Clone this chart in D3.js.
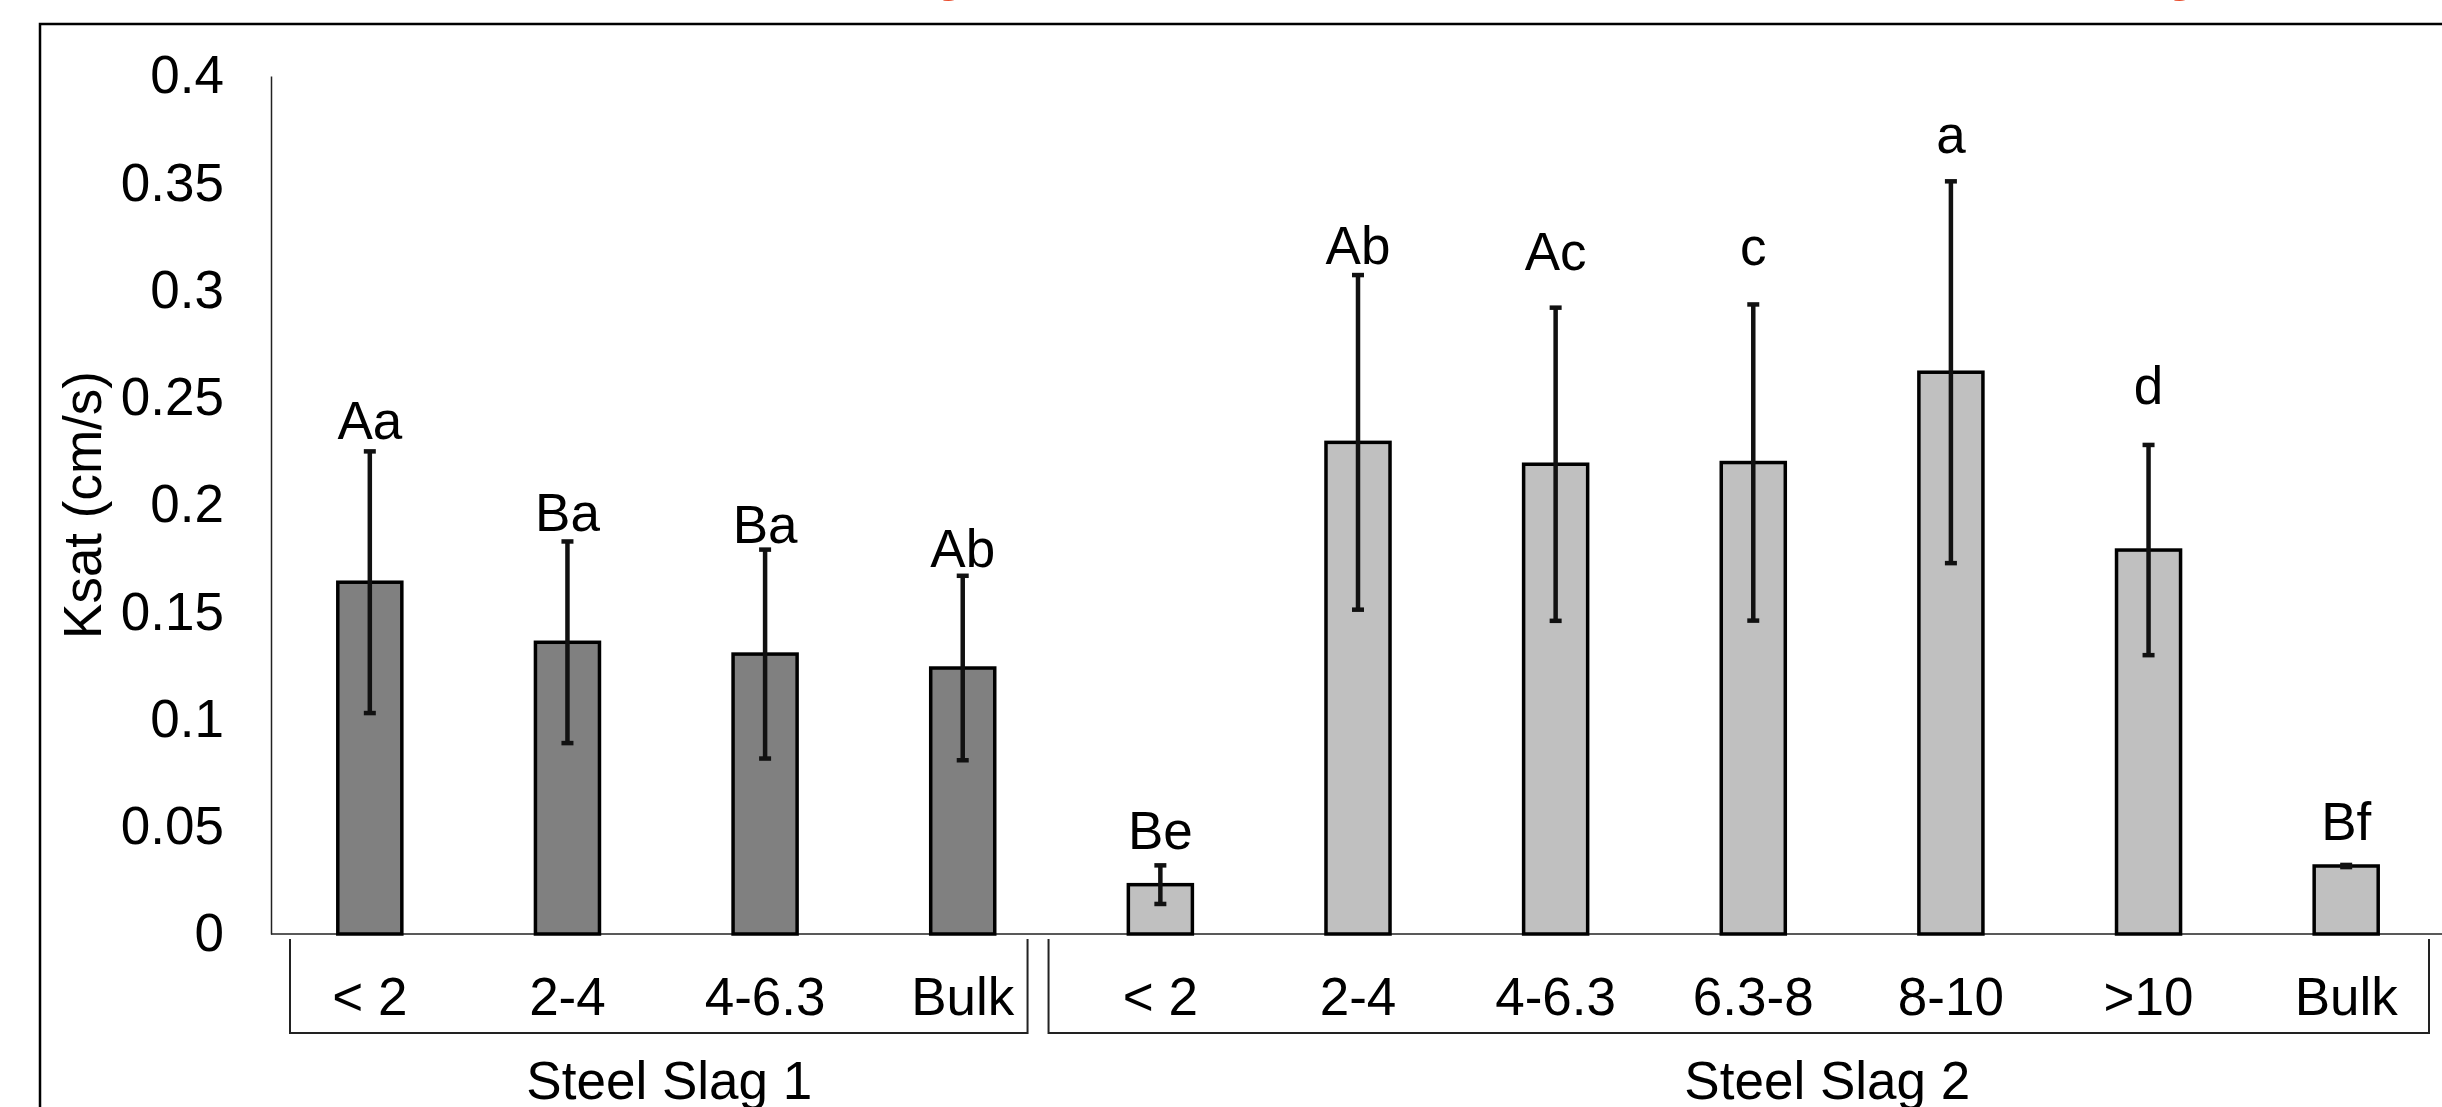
<html>

<head>
    <title> Ksat by size fraction </title>

    <style>
        body {
            margin: 0;
            background: white;
        }

        #main-svg {
            display: block;
        }

        text {
            font-family: "Liberation Sans", "Arial", "Helvetica", sans-serif;
            fill: black;
        }
    </style>

</head>

<script src="https://d3js.org/d3.v7.min.js"></script>

<body>
    <svg id="main-svg" xmlns="http://www.w3.org/2000/svg" version="1.1" width="2442" height="1107"></svg>

    <script>

        // --- data ---
        const groups = ["Steel Slag 1", "Steel Slag 2"];
        const group1Sizes = ["< 2", "2-4", "4-6.3", "Bulk"];
        const group2Sizes = ["< 2", "2-4", "4-6.3", "6.3-8", "8-10", ">10", "Bulk"];

        const group1Ksat = [0.164, 0.136, 0.1305, 0.124];
        const group1Err = [0.061, 0.047, 0.0487, 0.043];
        const group2Ksat = [0.023, 0.2292, 0.219, 0.2198, 0.2619, 0.179, 0.0317];
        const group2Err = [0.009, 0.078, 0.073, 0.0737, 0.089, 0.049, 0.0005];

        // significance letters and the Ksat level where each one sits
        const group1Letters = ["Aa", "Ba", "Ba", "Ab"];
        const group1LetterAt = [0.2308, 0.1879, 0.1821, 0.1711];
        const group2Letters = ["Be", "Ab", "Ac", "c", "a", "d", "Bf"];
        const group2LetterAt = [0.0396, 0.3124, 0.3096, 0.3117, 0.3641, 0.2469, 0.0438];

        const yTicks = [0, 0.05, 0.1, 0.15, 0.2, 0.25, 0.3, 0.35, 0.4];

        // build one row per bar
        const rows = [];
        group1Sizes.forEach((s, i) => rows.push({
            key: "g1-" + i, group: 0, size: s,
            value: group1Ksat[i], err: group1Err[i],
            letter: group1Letters[i], letterAt: group1LetterAt[i]
        }));
        group2Sizes.forEach((s, i) => rows.push({
            key: "g2-" + i, group: 1, size: s,
            value: group2Ksat[i], err: group2Err[i],
            letter: group2Letters[i], letterAt: group2LetterAt[i]
        }));

        const fontSize = 53;
        const barColors = ["#808080", "#c0c0c0"];

        svg = d3.select("#main-svg");

        // outer chart frame (runs off the right and bottom of the picture)
        svg.append("rect")
            .attr("x", 40)
            .attr("y", 24)
            .attr("width", 2500)
            .attr("height", 1200)
            .attr("fill", "white")
            .attr("stroke", "black")
            .attr("stroke-width", 2.5);

        // the red title above is cropped away, only the descenders show
        [949, 2180].forEach(cx => {
            svg.append("text")
                .attr("x", cx)
                .attr("y", -10)
                .attr("text-anchor", "middle")
                .style("font-size", fontSize + "px")
                .style("fill", "#e94b2b")
                .text("g");
        });

        const x0 = 271, x1 = 2445;
        const yBase = 934, yTop = 76;

        const x = d3.scaleBand()
            .domain(rows.map(d => d.key))
            .range([x0, x1])
            .paddingInner(0.676)
            .paddingOuter(0.338);

        const y = d3.scaleLinear()
            .domain([0, 0.4])
            .range([yBase, yTop]);

        // y axis
        const yAxis = svg.append("g")
            .attr("transform", `translate(${x0},0)`)
            .call(d3.axisLeft(y).tickValues(yTicks).tickSize(0).tickPadding(47)
                .tickFormat(d => d3.format("")(+d.toFixed(2))));
        yAxis.select(".domain")
            .attr("stroke", "#222")
            .attr("stroke-width", 1.5);
        yAxis.selectAll("text")
            .attr("font-family", null)
            .style("font-size", fontSize + "px");

        // x axis baseline
        svg.append("line")
            .attr("x1", x0)
            .attr("x2", 2442)
            .attr("y1", yBase)
            .attr("y2", yBase)
            .attr("stroke", "#222")
            .attr("stroke-width", 1.5);

        // y title
        svg.append("text")
            .attr("transform", `translate(101, ${(yBase + yTop) / 2}) rotate(-90)`)
            .attr("text-anchor", "middle")
            .style("font-size", fontSize + "px")
            .text("Ksat (cm/s)");

        // bars
        svg.append("g")
            .selectAll("rect")
            .data(rows)
            .enter()
            .append("rect")
            .attr("x", d => x(d.key))
            .attr("y", d => y(d.value))
            .attr("width", x.bandwidth())
            .attr("height", d => y(0) - y(d.value))
            .attr("fill", d => barColors[d.group])
            .attr("stroke", "black")
            .attr("stroke-width", 3.5);

        // error bars
        const errG = svg.append("g")
            .attr("stroke", "#111")
            .attr("stroke-width", 4.5);
        rows.forEach(d => {
            const cx = x(d.key) + x.bandwidth() / 2;
            errG.append("line")
                .attr("x1", cx).attr("x2", cx)
                .attr("y1", y(d.value + d.err))
                .attr("y2", y(d.value - d.err));
            [d.value + d.err, d.value - d.err].forEach(v => {
                errG.append("line")
                    .attr("x1", cx - 6).attr("x2", cx + 6)
                    .attr("y1", y(v)).attr("y2", y(v));
            });
        });

        // letters above the bars
        svg.append("g")
            .selectAll("text")
            .data(rows)
            .enter()
            .append("text")
            .attr("x", d => x(d.key) + x.bandwidth() / 2)
            .attr("y", d => y(d.letterAt))
            .attr("text-anchor", "middle")
            .style("font-size", fontSize + "px")
            .text(d => d.letter);

        // size fraction labels
        svg.append("g")
            .selectAll("text")
            .data(rows)
            .enter()
            .append("text")
            .attr("x", d => x(d.key) + x.bandwidth() / 2)
            .attr("y", 1015)
            .attr("text-anchor", "middle")
            .style("font-size", fontSize + "px")
            .text(d => d.size);

        // group brackets and names (Excel multi-level axis)
        const step = x.step();
        const groupSpans = [
            { start: x0, end: x0 + 4 * step, left: 19, right: -34, labelShift: 3 },
            { start: x0 + 4 * step, end: x1, left: -13, right: -16, labelShift: 74 }
        ];
        groupSpans.forEach((g, i) => {
            const l = g.start + g.left, r = g.end + g.right;
            svg.append("path")
                .attr("d", `M${l},939V1033H${r}V939`)
                .attr("fill", "none")
                .attr("stroke", "#222")
                .attr("stroke-width", 2);
            svg.append("text")
                .attr("x", (g.start + g.end) / 2 + g.labelShift)
                .attr("y", 1099)
                .attr("text-anchor", "middle")
                .style("font-size", fontSize + "px")
                .text(groups[i]);
        });

    </script>

</body>

</html>
